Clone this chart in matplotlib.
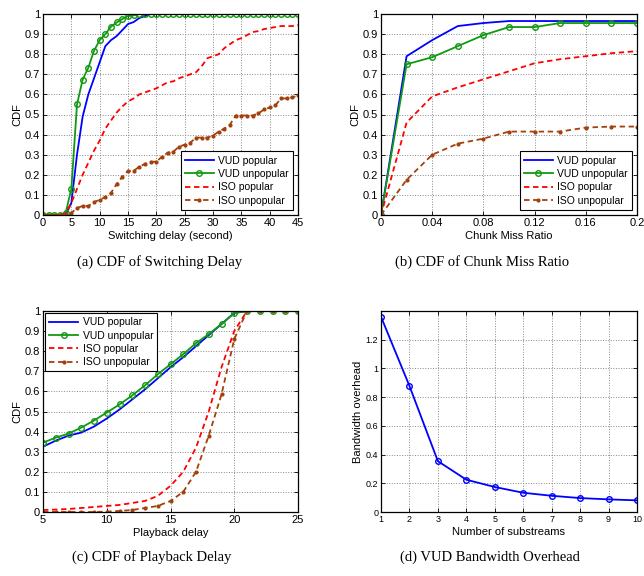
import numpy as np
import matplotlib
matplotlib.use('Agg')
import matplotlib.pyplot as plt

# (a) switching delay
sw_x = list(range(0, 46))
sw_vud_pop = [0, 0, 0, 0, 0, 0.06, 0.30, 0.49, 0.60, 0.68, 0.76, 0.84, 0.87, 0.89, 0.92,
              0.95, 0.96, 0.98, 0.99, 1.0] + [1.0] * 26
sw_vud_unpop = [0, 0, 0, 0, 0.01, 0.13, 0.55, 0.674, 0.733, 0.817, 0.87, 0.90, 0.937, 0.958, 0.975,
                0.99, 0.993] + [1.0] * 29
sw_iso_pop = [0, 0, 0, 0, 0.01, 0.06, 0.13, 0.20, 0.26, 0.32, 0.37, 0.43, 0.47, 0.51, 0.54,
              0.565, 0.58, 0.60, 0.61, 0.62, 0.63, 0.645, 0.66, 0.665, 0.68, 0.69, 0.70, 0.71,
              0.74, 0.78, 0.79, 0.80, 0.83, 0.85, 0.87, 0.88, 0.895, 0.91, 0.915, 0.925, 0.93,
              0.935, 0.94, 0.94, 0.94, 0.945]
sw_iso_unpop = [0, 0, 0, 0, 0.005, 0.01, 0.035, 0.045, 0.045, 0.065, 0.075, 0.09, 0.11, 0.155, 0.19,
                0.22, 0.22, 0.24, 0.255, 0.265, 0.265, 0.29, 0.31, 0.315, 0.34, 0.35, 0.36, 0.385,
                0.385, 0.385, 0.395, 0.415, 0.43, 0.45, 0.495, 0.495, 0.495, 0.495, 0.505, 0.525,
                0.535, 0.545, 0.58, 0.58, 0.585, 0.595]

# (b) chunk miss ratio
cm_x = [0, 0.02, 0.04, 0.06, 0.08, 0.10, 0.12, 0.14, 0.16, 0.18, 0.20]
cm_vud_pop = [0, 0.79, 0.87, 0.94, 0.955, 0.965, 0.965, 0.965, 0.965, 0.965, 0.965]
cm_vud_unpop = [0, 0.75, 0.785, 0.84, 0.895, 0.935, 0.935, 0.955, 0.955, 0.955, 0.955]
cm_iso_pop = [0, 0.46, 0.59, 0.635, 0.675, 0.715, 0.755, 0.775, 0.79, 0.805, 0.815]
cm_iso_unpop = [0, 0.175, 0.30, 0.355, 0.38, 0.415, 0.415, 0.415, 0.435, 0.44, 0.44]

# (c) playback delay
pb_x = list(range(5, 26))
pb_vud_pop = [0.325, 0.355, 0.38, 0.395, 0.425, 0.465, 0.51, 0.56, 0.61, 0.665, 0.72,
              0.77, 0.825, 0.88, 0.935, 0.99, 1.0, 1.0, 1.0, 1.0, 1.0]
pb_vud_unpop = [0.345, 0.37, 0.39, 0.42, 0.455, 0.495, 0.535, 0.58, 0.63, 0.685, 0.735,
                0.785, 0.84, 0.885, 0.935, 0.99, 1.0, 1.0, 1.0, 1.0, 1.0]
pb_iso_pop = [0.01, 0.012, 0.015, 0.02, 0.025, 0.03, 0.035, 0.045, 0.055, 0.08, 0.13,
              0.20, 0.32, 0.50, 0.72, 0.90, 1.0, 1.0, 1.0, 1.0, 1.0]
pb_iso_unpop = [0, 0, 0, 0, 0, 0.002, 0.005, 0.01, 0.02, 0.03, 0.055,
                0.10, 0.20, 0.38, 0.585, 0.86, 1.0, 1.0, 1.0, 1.0, 1.0]

# (d) bandwidth overhead
bw_x = list(range(1, 11))
bw_y = [1.36, 0.878, 0.354, 0.225, 0.174, 0.134, 0.113, 0.097, 0.088, 0.081]

labels = ['VUD popular', 'VUD unpopular', 'ISO popular', 'ISO unpopular']
BLUE = '#0000ff'
GREEN = '#119911'
RED = '#ff0000'
BROWN = '#a3400c'

plt.rcParams['font.family'] = ['Liberation Sans', 'DejaVu Sans']
plt.rcParams['font.size'] = 8

fig = plt.figure(figsize=(6.44, 5.76), dpi=100)
W, H = 644.0, 576.0


def make_ax(l, t, r, b):
    return fig.add_axes([l / W, 1 - b / H, (r - l) / W, (b - t) / H])


def style(ax, lsize=8):
    ax.grid(True, linestyle=':', color='#888888', linewidth=0.7)
    ax.tick_params(direction='in', length=3, width=0.6, labelsize=lsize, pad=2,
                   top=True, right=True)
    for s in ax.spines.values():
        s.set_linewidth(0.9)
        s.set_color('black')


def cdf_lines(ax, x, a, b, c, d):
    ax.plot(x, a, color=BLUE, lw=1.3, label=labels[0])
    ax.plot(x, b, color=GREEN, lw=1.3, marker='o', ms=4, mfc='none', mew=1.0, label=labels[1])
    ax.plot(x, c, color=RED, lw=1.3, ls=(0, (3, 2)), label=labels[2])
    ax.plot(x, d, color=BROWN, lw=1.3, ls=(0, (3, 2)), marker='o', ms=3, mew=0,
            label=labels[3])


def legend(ax, loc, pad=0.5):
    lg = ax.legend(loc=loc, fontsize=7.5, fancybox=False, framealpha=1, edgecolor='black',
                   borderpad=0.4, labelspacing=0.32, handlelength=2.8, handletextpad=0.4,
                   borderaxespad=pad)
    lg.get_frame().set_linewidth(0.8)


cdf_ticks = np.arange(0, 1.01, 0.1)
cdf_labels = ['0', '0.1', '0.2', '0.3', '0.4', '0.5', '0.6', '0.7', '0.8', '0.9', '1']

# (a)
ax = make_ax(43, 14, 298, 215)
cdf_lines(ax, sw_x, sw_vud_pop, sw_vud_unpop, sw_iso_pop, sw_iso_unpop)
ax.set_xlim(0, 45)
ax.set_ylim(0, 1)
ax.set_xticks(range(0, 46, 5))
ax.set_yticks(cdf_ticks)
ax.set_yticklabels(cdf_labels)
ax.set_xlabel('Switching delay (second)', fontsize=8, labelpad=2)
ax.set_ylabel('CDF', fontsize=8, labelpad=2)
style(ax)
legend(ax, 'lower right')

# (b)
ax = make_ax(381, 14, 637, 215)
cdf_lines(ax, cm_x, cm_vud_pop, cm_vud_unpop, cm_iso_pop, cm_iso_unpop)
ax.set_xlim(0, 0.2)
ax.set_ylim(0, 1)
ax.set_xticks([0, 0.04, 0.08, 0.12, 0.16, 0.2])
ax.set_xticklabels(['0', '0.04', '0.08', '0.12', '0.16', '0.2'])
ax.set_yticks(cdf_ticks)
ax.set_yticklabels(cdf_labels)
ax.set_xlabel('Chunk Miss Ratio', fontsize=8, labelpad=2)
ax.set_ylabel('CDF', fontsize=8, labelpad=2)
style(ax)
legend(ax, 'lower right')

# (c)
ax = make_ax(43, 311, 298, 512)
cdf_lines(ax, pb_x, pb_vud_pop, pb_vud_unpop, pb_iso_pop, pb_iso_unpop)
ax.set_xlim(5, 25)
ax.set_ylim(0, 1)
ax.set_xticks(range(5, 26, 5))
ax.set_yticks(cdf_ticks)
ax.set_yticklabels(cdf_labels)
ax.set_xlabel('Playback delay', fontsize=8, labelpad=2)
ax.set_ylabel('CDF', fontsize=8, labelpad=2)
style(ax)
legend(ax, 'upper left', pad=0.2)

# (d)
ax = make_ax(381, 311, 637, 512)
ax.plot(bw_x, bw_y, color=BLUE, lw=1.3, marker='o', ms=4, mfc='none', mew=1.0)
ax.set_xlim(1, 10)
ax.set_ylim(0, 1.4)
ax.set_xticks(range(1, 11))
ax.set_yticks([0, 0.2, 0.4, 0.6, 0.8, 1.0, 1.2])
ax.set_yticklabels(['0', '0.2', '0.4', '0.6', '0.8', '1', '1.2'])
ax.set_xlabel('Number of substreams', fontsize=8, labelpad=2)
ax.set_ylabel('Bandwidth overhead', fontsize=8, labelpad=2)
style(ax, lsize=6.5)

cap = dict(fontsize=10.5, family=['Liberation Serif', 'DejaVu Serif'], ha='center', va='center')
fig.text(160 / W, 1 - 262 / H, '(a) CDF of Switching Delay', **cap)
fig.text(482 / W, 1 - 262 / H, '(b) CDF of Chunk Miss Ratio', **cap)
fig.text(152 / W, 1 - 557 / H, '(c) CDF of Playback Delay', **cap)
fig.text(490 / W, 1 - 557 / H, '(d) VUD Bandwidth Overhead', **cap)

fig.savefig('out.png', dpi=100)
